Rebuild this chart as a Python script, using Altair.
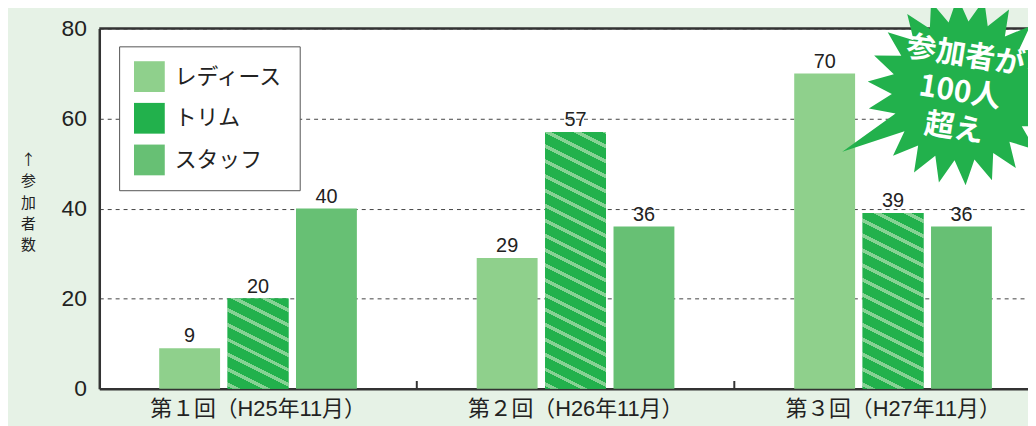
import math
import altair as alt
import pandas as pd

# ---------------- data ----------------
categories = ["第１回（H25年11月）", "第２回（H26年11月）", "第３回（H27年11月）"]
series = ["レディース", "トリム", "スタッフ"]
ladies = [9, 29, 70]
trim = [20, 57, 39]
staff = [40, 36, 36]
y_ticks = [0, 20, 40, 60, 80]
y_title = ["↑", "参", "加", "者", "数"]
callout = ["参加者が", "100人", "超え"]
colors = ["#8fd08c", "#22b14c", "#67c074"]
stripe_light = "#86d294"

# ---------------- layout constants ----------------
W, H = 936, 363          # plot area (right part runs off the page like the original)
X_RANGE = 960            # full band range of the category scale
P_IN, P_OUT = 0.11, 0.876
FONT_NUM = "Liberation Sans, Noto Sans CJK JP"
FONT_JP = "Noto Sans CJK JP"

rows = []
for i, c in enumerate(categories):
    for s, vals in zip(series, [ladies, trim, staff]):
        rows.append({"cat": c, "series": s, "value": vals[i]})
df = pd.DataFrame(rows)

band = X_RANGE / len(categories)
step = band / (len(series) - P_IN + 2 * P_OUT)
bar_w = step * (1 - P_IN)


def stripe_gradient(w, h, base, light, period=30.0, sw=8.0, phase=5.0):
    """Linear gradient giving diagonal '\\' stripes (slope 1/2) of constant pixel size."""
    L = w + 2 * h
    a = L * h * w / (w * w + 4 * h * h)
    x2, y2 = a / h, 1 - 2 * a / w
    stops = [{"offset": 0, "color": base}]
    s = phase
    while s < L:
        o1 = s / L
        o2 = min((s + sw) / L, 1.0)
        stops += [
            {"offset": o1, "color": base},
            {"offset": o1, "color": light},
            {"offset": o2, "color": light},
            {"offset": o2, "color": base},
        ]
        s += period
    stops.append({"offset": 1, "color": base})
    return {"gradient": "linear", "x1": 0, "y1": 1, "x2": x2, "y2": y2, "stops": stops}


def star_path(n=22, r_out=1.0, r_in=0.74, spike_angle=153.0, spike_r=1.42):
    pts = []
    th0 = math.radians(spike_angle)
    for k in range(n):
        t = th0 + k * 2 * math.pi / n
        r = spike_r if k == 0 else r_out
        pts.append((r * math.cos(t), r * math.sin(t)))
        t2 = t + math.pi / n
        pts.append((r_in * math.cos(t2), r_in * math.sin(t2)))
    return "M" + " L".join(f"{x:.3f} {y:.3f}" for x, y in pts) + " Z"


# ---------------- encodings ----------------
x_enc = alt.X(
    "cat:N",
    scale=alt.Scale(domain=categories, range=[0, X_RANGE], paddingInner=0, paddingOuter=0),
    axis=alt.Axis(
        title=None, ticks=False, grid=False, labelAngle=0, labelLimit=0,
        domainColor="#333333", domainWidth=2.5,
        labelFont=FONT_NUM, labelFontSize=22, labelColor="#222222", labelPadding=10,
    ),
)
xoff_enc = alt.XOffset(
    "series:N", scale=alt.Scale(domain=series, paddingInner=P_IN, paddingOuter=P_OUT)
)
y_enc = alt.Y(
    "value:Q",
    scale=alt.Scale(domain=[0, 80], nice=False),
    axis=alt.Axis(
        values=y_ticks, ticks=False, grid=True, gridDash=[4, 4], gridColor="#444444", gridWidth=1,
        domainColor="#333333", domainWidth=2.5,
        labelFont=FONT_NUM, labelFontSize=23, labelColor="#222222", labelPadding=13,
        title=y_title, titleAngle=0, titleAlign="center", titleBaseline="top",
        titleX=-72, titleY=125, titleFont=FONT_JP, titleFontSize=15, titleLineHeight=21.5,
        titleFontWeight="normal", titleColor="#222222",
    ),
)

bars = alt.Chart(df).mark_bar().encode(
    x=x_enc,
    xOffset=xoff_enc,
    y=y_enc,
    color=alt.Color(
        "series:N",
        scale=alt.Scale(domain=series, range=colors),
        legend=alt.Legend(
            title=None, orient="none", legendX=20, legendY=18,
            symbolType="square", symbolSize=961, symbolStrokeWidth=0, symbolOpacity=1,
            labelFont=FONT_JP, labelFontSize=22, labelColor="#222222", labelOffset=10,
            rowPadding=11, padding=15, strokeColor="#555555", fillColor="white",
        ),
    ),
)

layers = [bars]
for i, c in enumerate(categories):
    h = trim[i] * H / 80.0
    grad = stripe_gradient(bar_w, h, colors[1], stripe_light)
    sub = df[(df["cat"] == c) & (df["series"] == series[1])]
    layers.append(
        alt.Chart(sub).mark_bar(fill=grad).encode(
            x=alt.X("cat:N"), xOffset=alt.XOffset("series:N"), y=alt.Y("value:Q")
        )
    )

labels = alt.Chart(df).mark_text(
    font=FONT_NUM, fontSize=20, color="#222222", baseline="alphabetic", dy=-6
).encode(x=alt.X("cat:N"), xOffset=alt.XOffset("series:N"), y=alt.Y("value:Q"), text="value:Q")
layers.append(labels)

top_border = alt.Chart(pd.DataFrame({"v": [y_ticks[-1]]})).mark_rule(
    color="#333333", strokeWidth=2.5
).encode(y="v:Q")
layers.append(top_border)

sep = alt.Chart(pd.DataFrame({"cat": categories[1:]})).mark_rule(
    color="#333333", strokeWidth=2
).encode(x=alt.X("cat:N", bandPosition=0), y=alt.datum(0), y2=alt.datum(1.7))
layers.append(sep)

star = alt.Chart(pd.DataFrame({"k": [0]})).mark_point(
    shape=star_path(), size=36100, filled=True, fill="#22b14c", opacity=1, strokeWidth=0
).encode(x=alt.value(869), y=alt.value(63))
layers.append(star)

star_text = alt.Chart(pd.DataFrame({"k": [0]})).mark_text(
    text=callout, font=FONT_JP, fontSize=30, fontWeight="bold", color="white",
    angle=9, align="center", baseline="middle", lineHeight=37,
).encode(x=alt.value(873), y=alt.value(28))
layers.append(star_text)

chart = (
    alt.layer(*layers)
    .properties(
        width=W, height=H,
        background="#e6f2e6",
        autosize=alt.AutoSizeParams(type="none"),
        padding={"left": 92, "top": 19, "right": 0, "bottom": 36},
    )
    .configure_view(fill="white", stroke="transparent")
)

chart.save("out.html", embed_options={"renderer": "svg", "actions": False})
